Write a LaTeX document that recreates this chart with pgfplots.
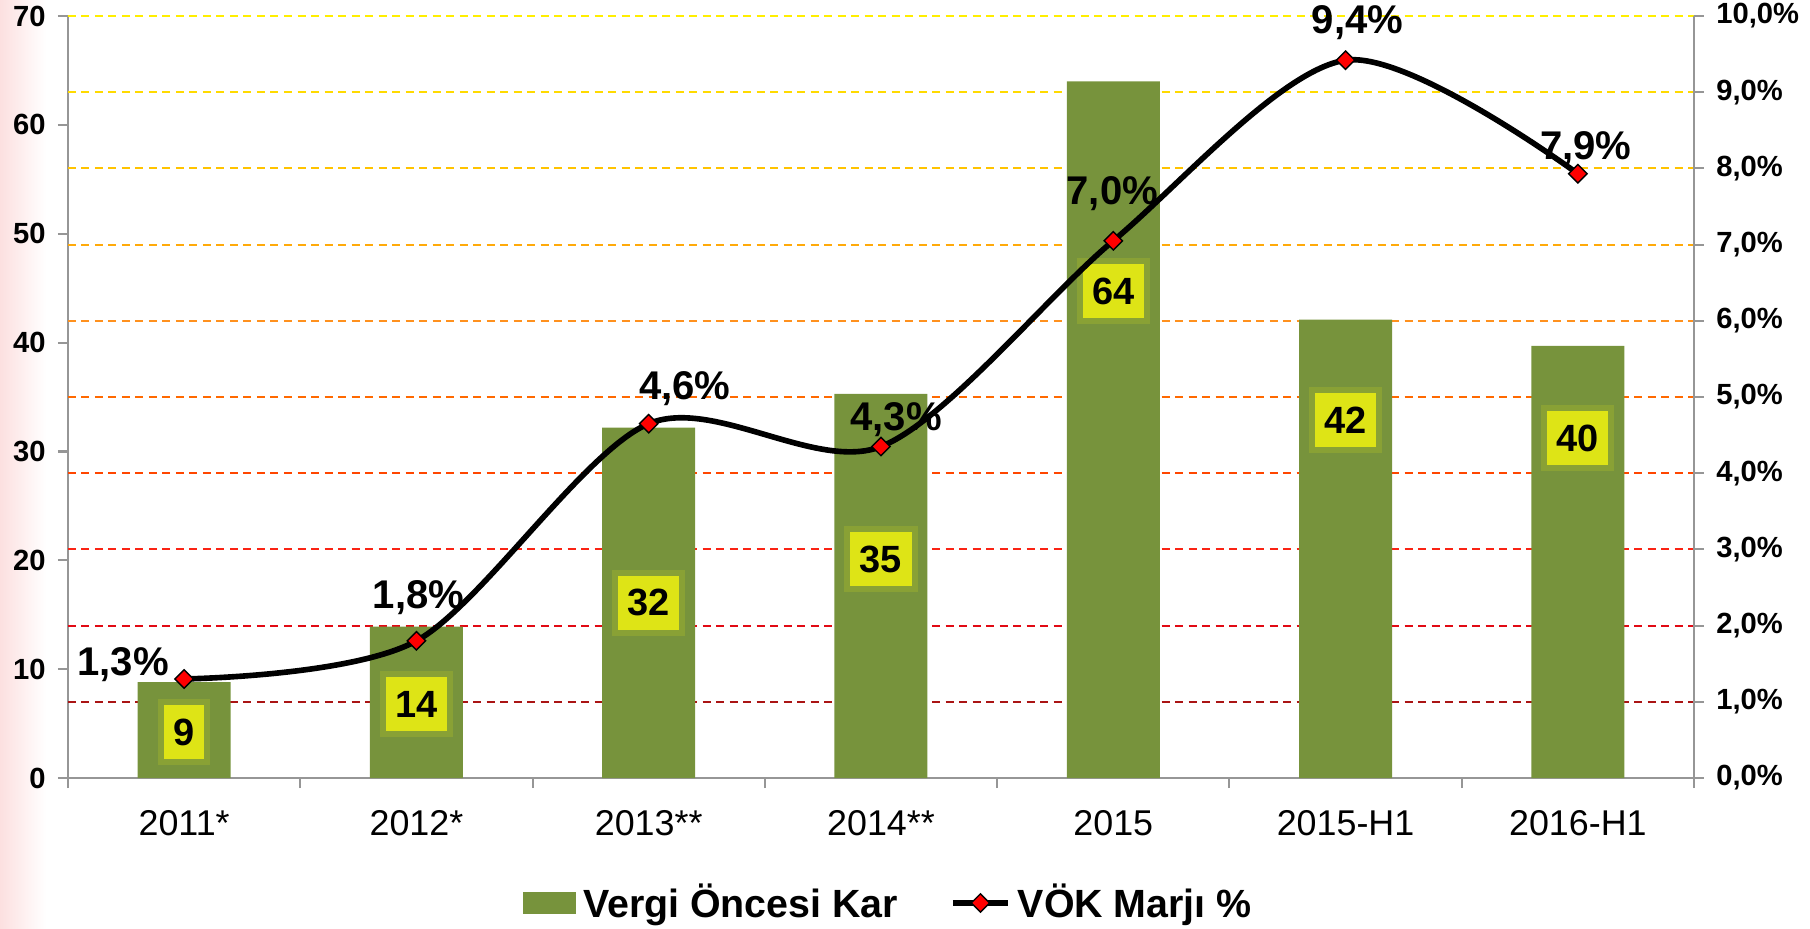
\documentclass[border=0pt]{standalone}
\usepackage{fontspec}
\setmainfont{Liberation Sans}
\usepackage{pgfplots}
\pgfplotsset{compat=1.18}

\definecolor{barcol}{RGB}{119,147,60}
\definecolor{lblyel}{RGB}{222,228,22}
\definecolor{axgrey}{RGB}{150,150,150}
\definecolor{g1}{RGB}{170,20,20}
\definecolor{g2}{RGB}{225,10,20}
\definecolor{g3}{RGB}{250,35,20}
\definecolor{g4}{RGB}{255,70,0}
\definecolor{g5}{RGB}{255,105,0}
\definecolor{g6}{RGB}{255,145,30}
\definecolor{g7}{RGB}{255,170,10}
\definecolor{g8}{RGB}{255,195,0}
\definecolor{g9}{RGB}{255,218,0}
\definecolor{g10}{RGB}{255,238,0}

\pgfplotsset{
  common/.style={
    scale only axis, width=162.6mm, height=76.2mm,
    xmin=-0.5, xmax=6.5, clip=false,
    axis line style={axgrey, line width=0.6pt},
    tick style={axgrey, line width=0.6pt},
    tick align=outside, major tick length=1mm,
    /pgf/number format/assume math mode=true,
    yticklabel style={font=\fontsize{8.3}{10}\selectfont\bfseries, text=black},
  },
  mylinelegend/.style={legend image code/.code={%
    \draw[mark repeat=2, mark phase=2, ##1] plot coordinates {(0mm,0mm) (2.75mm,0mm) (5.5mm,0mm)};}},
  mybarlegend/.style={legend image code/.code={%
    \fill[barcol] (0mm,-1mm) rectangle (5.2mm,1mm);}},
}
\tikzset{
  gline/.style={dash pattern=on 0.8mm off 0.55mm, line width=0.2mm},
  lbl/.style={fill=lblyel, inner xsep=0.95mm, inner ysep=0pt, minimum height=5.4mm,
    font=\fontsize{10.8}{12}\selectfont\bfseries,
    preaction={draw=lblyel!60!barcol, line width=1.2mm, opacity=0.3}},
  pct/.style={anchor=base, font=\fontsize{11.4}{13}\selectfont\bfseries},
}

\begin{document}
\begin{tikzpicture}
\shade[left color={rgb,255:red,252;green,224;blue,224}, right color=white] (-6.8mm,-15mm) rectangle (-2.2mm,77.8mm);

\begin{axis}[common,
  ymin=0, ymax=70,
  axis x line*=bottom, axis y line*=left,
  ytick={0,10,...,70},
  xtick={-0.5,0.5,...,6.5},
  x tick label as interval,
  xticklabels={2011*,2012*,2013**,2014**,2015,2015-H1,2016-H1},
  xticklabel style={font=\fontsize{10.2}{12}\selectfont, yshift=-1mm},
]
\draw[gline, g1] (axis cs:-0.5,7) -- (axis cs:6.5,7);
\draw[gline, g2] (axis cs:-0.5,14) -- (axis cs:6.5,14);
\draw[gline, g3] (axis cs:-0.5,21) -- (axis cs:6.5,21);
\draw[gline, g4] (axis cs:-0.5,28) -- (axis cs:6.5,28);
\draw[gline, g5] (axis cs:-0.5,35) -- (axis cs:6.5,35);
\draw[gline, g6] (axis cs:-0.5,42) -- (axis cs:6.5,42);
\draw[gline, g7] (axis cs:-0.5,49) -- (axis cs:6.5,49);
\draw[gline, g8] (axis cs:-0.5,56) -- (axis cs:6.5,56);
\draw[gline, g9] (axis cs:-0.5,63) -- (axis cs:6.5,63);
\draw[gline, g10] (axis cs:-0.5,70) -- (axis cs:6.5,70);
\addplot[ybar, bar width=9.3mm, fill=barcol, draw=none]
  coordinates {(0,8.8) (1,13.9) (2,32.2) (3,35.3) (4,64.0) (5,42.1) (6,39.7)};
\node[lbl] at (axis cs:0,4.2) {9};
\node[lbl] at (axis cs:1,6.8) {14};
\node[lbl] at (axis cs:2,16.1) {32};
\node[lbl] at (axis cs:3,20.1) {35};
\node[lbl] at (axis cs:4,44.7) {64};
\node[lbl] at (axis cs:5,32.9) {42};
\node[lbl] at (axis cs:6,31.2) {40};
\end{axis}

\begin{axis}[common,
  ymin=0, ymax=10,
  axis x line=none, axis y line*=right,
  ytick={0,1,...,10},
  yticklabel={\pgfmathprintnumber[fixed,fixed zerofill,precision=1,use comma]{\tick}\%},
  legend style={at={(0.506,-0.164)}, anchor=center, draw=none, fill=none,
    font=\fontsize{11.2}{13}\selectfont\bfseries, legend columns=2,
    /tikz/every even column/.append style={column sep=4.5mm}},
  legend cell align=left,
]
\addlegendimage{mybarlegend}
\addlegendentry{Vergi Öncesi Kar}
\addplot[black, line width=1.6pt, smooth, mark=square*,
  mark options={rotate=45, fill=red, draw=black, line width=0.4pt}, mark size=0.65mm,
  mylinelegend]
  coordinates {(0,1.3) (1,1.8) (2,4.65) (3,4.35) (4,7.05) (5,9.42) (6,7.93)};
\addlegendentry{VÖK Marjı \%}
\node[pct, xshift=-6.1mm, yshift=0.3mm] at (axis cs:0,1.3) {1,3\%};
\node[pct, xshift=0.2mm, yshift=3.2mm] at (axis cs:1,1.8) {1,8\%};
\node[pct, xshift=3.6mm, yshift=2.4mm] at (axis cs:2,4.65) {4,6\%};
\node[pct, xshift=1.5mm, yshift=1.6mm] at (axis cs:3,4.35) {4,3\%};
\node[pct, xshift=-0.1mm, yshift=3.6mm] at (axis cs:4,7.05) {7,0\%};
\node[pct, xshift=1.2mm, yshift=2.7mm] at (axis cs:5,9.42) {9,4\%};
\node[pct, xshift=0.8mm, yshift=1.4mm] at (axis cs:6,7.93) {7,9\%};
\end{axis}
\pgfresetboundingbox
\path[use as bounding box] (-6.8mm,-15mm) rectangle (174.2mm,77.8mm);
\end{tikzpicture}
\end{document}
